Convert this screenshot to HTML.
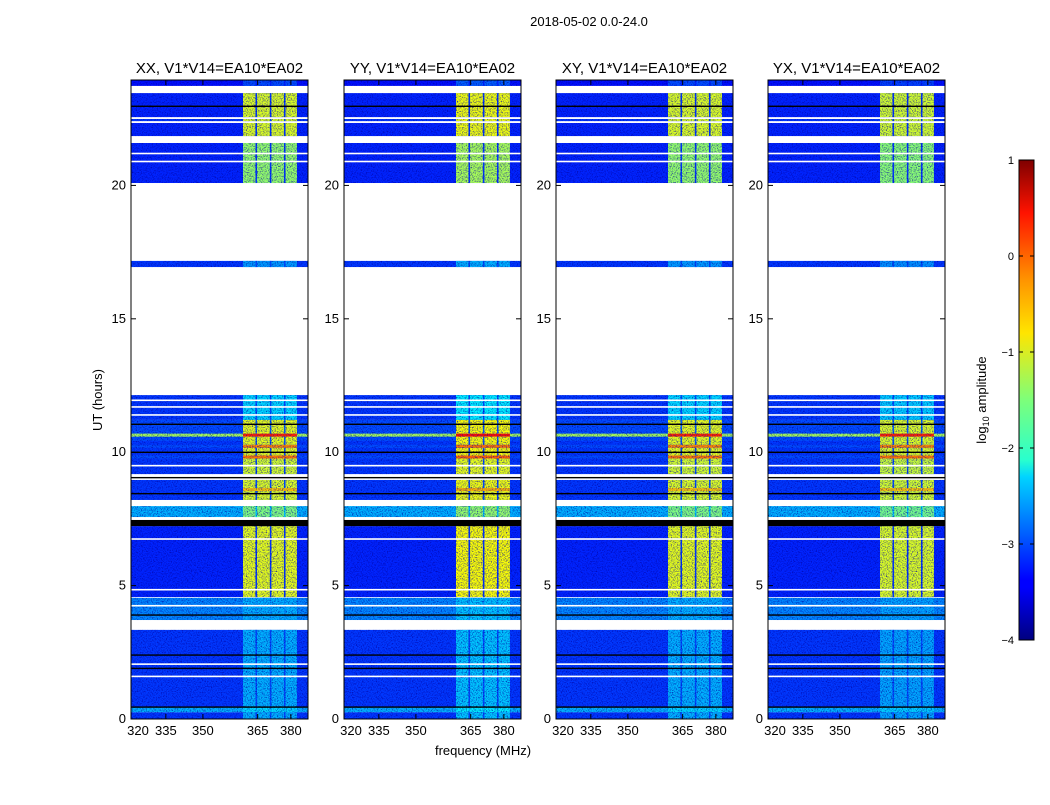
<!DOCTYPE html>
<html><head><meta charset="utf-8">
<style>
body{margin:0;background:#fff;width:1050px;height:800px;overflow:hidden;font-family:"Liberation Sans",sans-serif;}
svg text{font-family:"Liberation Sans",sans-serif;}
</style></head>
<body>
<svg id="fig" width="1050" height="800" xmlns="http://www.w3.org/2000/svg">
<defs>
<filter id="noise" x="0" y="0" width="100%" height="100%">
<feTurbulence type="fractalNoise" baseFrequency="0.8" numOctaves="2" seed="7" result="n"/>
<feColorMatrix in="n" type="matrix" values="0 0 0 0 0  0 0 0 0 0  0 0 0 0 0.35  2.2 0 0 0 -1.0" result="c"/>
<feComposite in="c" in2="SourceGraphic" operator="in"/>
</filter>
<linearGradient id="jet" x1="0" y1="1" x2="0" y2="0">
<stop offset="0" stop-color="#00007f"/><stop offset="0.11" stop-color="#0000ff"/>
<stop offset="0.125" stop-color="#0000ff"/><stop offset="0.34" stop-color="#00d4ff"/>
<stop offset="0.375" stop-color="#29ffce"/><stop offset="0.5" stop-color="#7dff7a"/>
<stop offset="0.64" stop-color="#ffe500"/><stop offset="0.75" stop-color="#ff9400"/>
<stop offset="0.89" stop-color="#ff1300"/><stop offset="1" stop-color="#7f0000"/>
</linearGradient>
</defs>
<text x="589" y="26" font-size="13" text-anchor="middle">2018-05-02 0.0-24.0</text>
<text x="483" y="755" font-size="13" text-anchor="middle">frequency (MHz)</text>
<text x="102" y="400" font-size="13" text-anchor="middle" transform="rotate(-90 102 400)">UT (hours)</text>
<g id="panels"></g>
<g>
<rect x="1019" y="160" width="15" height="480" fill="url(#jet)" stroke="#000" stroke-width="1"/>
</g>
<text x="986" y="400" font-size="13" text-anchor="middle" transform="rotate(-90 986 400)">log<tspan font-size="9" dy="3">10</tspan><tspan dy="-3"> amplitude</tspan></text>
<g id="cbticks"></g>
</svg>
<script>
// ---- data ----
const panelTitles = ["XX, V1*V14=EA10*EA02","YY, V1*V14=EA10*EA02","XY, V1*V14=EA10*EA02","YX, V1*V14=EA10*EA02"];
const yTicks = [0,5,10,15,20];
const xTickLabels = ["320","335","350","365","380"];
const xTickChannels = [0,12.6,26,45.8,57.8];
const bandStartCh = 40.5, bandEndCh = 60, nChan = 64;
const bandGapChannels = [45,50.2,55.3];
// data segments
const segStart = [23.73,22.56,22.41,21.85,20.09,16.94,11.21,10.42,9.78,9.18,8.21,7.57,4.57,3.71,0.45,0.25,0.00];
const segEnd   = [23.95,23.46,22.49,22.34,21.59,17.17,12.14,11.21,10.42,9.78,8.96,7.98,7.23,4.54,3.34,0.45,0.25];
const segBg    = [-3.3,-3.2,-3.1,-3.2,-3.2,-3.1,-3.1,-3.0,-3.1,-3.1,-3.1,-2.5,-3.2,-2.7,-3.1,-2.5,-3.1];
const segBand  = [-3.0,-1.05,-1.05,-1.05,-1.4,-2.6,-2.3,-1.0,-1.0,-1.1,-1.05,-1.5,-1.0,-2.5,-2.5,-2.3,-2.5];
// hot rows: [hour, bgLevel, bandLevel]
const hotRowHours = [10.64,10.22,9.82,8.6];
const hotRowBg    = [-1.3,-3.0,-3.0,-3.1];
const hotRowBand  = [0.2,-0.3,-0.2,-0.6];
const panelBandOffset = [0,0.1,0,-0.05];
const panelHotOffset = [0,0.1,0,0];
const whiteLineHours = [21.2,20.9,11.95,11.7,11.4,9.5,6.75,4.85,4.25,3.6,3.45,2.06,1.6];
const blackLineHours = [22.97,11.05,10.0,9.05,8.45,3.9,2.4,1.9,0.45];
const thickBlackStart = [7.23];
const thickBlackEnd = [7.46];
const cbTicks = [1,0,-1,-2,-3,-4];

// ---- helpers ----
const NS="http://www.w3.org/2000/svg";
function jet(v){
  let t=Math.max(0,Math.min(1,(v+4)/5));
  const r=Math.max(0,Math.min(1,1.5-Math.abs(4*t-3)));
  const g=Math.max(0,Math.min(1,1.5-Math.abs(4*t-2)));
  const b=Math.max(0,Math.min(1,1.5-Math.abs(4*t-1)));
  return `rgb(${Math.round(r*255)},${Math.round(g*255)},${Math.round(b*255)})`;
}
function mk(tag,attrs,parent){const e=document.createElementNS(NS,tag);for(const k in attrs)e.setAttribute(k,attrs[k]);parent.appendChild(e);return e;}
const panelX=[131,344,556,768], panelW=177, yTop=80, yBottom=719;
const yScale=h=>yBottom-(h/24)*(yBottom-78.7);
const panelsG=document.getElementById('panels');

panelX.forEach((px,pi)=>{
  const xs=c=>px+(c/nChan)*panelW;
  const g=mk('g',{},panelsG);
  
  
  const img=mk('g',{},g);
  
  
  const texture=mk('g',{},g);
  
  
  function drawSeg(h0,h1,bg,band){
    const y0=yScale(Math.max(h0,h1)), y1=yScale(Math.min(h0,h1));
    const r=mk('rect',{x:px,y:y0,width:panelW,height:y1-y0,fill:jet(bg)},img);
    
    
    const b=mk('rect',{x:xs(bandStartCh),y:y0,width:xs(bandEndCh)-xs(bandStartCh),height:y1-y0,fill:jet(band+panelBandOffset[pi])},img);
    
    
    bandGapChannels.forEach(c=>{
      const gp=mk('rect',{x:xs(c),y:y0,width:1.6,height:y1-y0,fill:jet(bg+0.1)},img);
      
      
    });
    const n=mk('rect',{x:px,y:y0,width:panelW,height:y1-y0,fill:'#000',filter:'url(#noise)'},texture);
    
    
  }
  for(let i=0;i<segStart.length;i++) drawSeg(segStart[i],segEnd[i],segBg[i],segBand[i]);
  for(let i=0;i<hotRowHours.length;i++){
    const y=yScale(hotRowHours[i]);
    const r=mk('rect',{x:px,y:y-1.5,width:panelW,height:3,fill:jet(hotRowBg[i])},img);
    
    
    const b=mk('rect',{x:xs(bandStartCh),y:y-1.5,width:xs(bandEndCh)-xs(bandStartCh),height:3,fill:jet(hotRowBand[i]+panelHotOffset[pi])},img);
    
    
  }
  whiteLineHours.forEach(h=>{
    const r=mk('rect',{x:px,y:yScale(h)-0.7,width:panelW,height:1.6,fill:'#fff'},g);
    
    
  });
  blackLineHours.forEach(h=>{
    const r=mk('rect',{x:px,y:yScale(h)-0.6,width:panelW,height:1.4,fill:'#000'},g);
    
    
  });
  for(let i=0;i<thickBlackStart.length;i++){
    const y0=yScale(thickBlackEnd[i]), y1=yScale(thickBlackStart[i]);
    const r=mk('rect',{x:px,y:y0,width:panelW,height:y1-y0,fill:'#000'},g);
    
    
  }
  const frame=mk('rect',{x:px,y:yTop,width:panelW,height:yBottom-yTop,fill:'none',stroke:'#000','stroke-width':1},g);
  
  
  const t=mk('text',{x:px+panelW/2,y:73,'font-size':15,'text-anchor':'middle'},g);
  t.textContent=panelTitles[pi];
  
  
  yTicks.forEach(v=>{
    const y=yScale(v);
    mk('line',{x1:px,x2:px+5,y1:y,y2:y,stroke:'#000'},g);
    mk('line',{x1:px+panelW-5,x2:px+panelW,y1:y,y2:y,stroke:'#000'},g);
    const l=mk('text',{x:px-5,y:y+4,'font-size':13,'text-anchor':'end'},g);
    l.textContent=v;
    
    
  });
  xTickChannels.forEach((c,i)=>{
    const x=xs(c);
    mk('line',{x1:x,x2:x,y1:yBottom,y2:yBottom-5,stroke:'#000'},g);
    mk('line',{x1:x,x2:x,y1:yTop,y2:yTop+5,stroke:'#000'},g);
    const l=mk('text',{x:x+(i===0?7:0),y:yBottom+16,'font-size':13,'text-anchor':'middle'},g);
    l.textContent=xTickLabels[i];
    
    
  });
});
const cbg=document.getElementById('cbticks');
cbTicks.forEach(v=>{
  const y=640-(v+4)/5*480;
  mk('line',{x1:1019,x2:1023,y1:y,y2:y,stroke:'#000'},cbg);
  mk('line',{x1:1030,x2:1034,y1:y,y2:y,stroke:'#000'},cbg);
  const l=mk('text',{x:1014,y:y+4,'font-size':11,'text-anchor':'end'},cbg);
  l.textContent=(v<0?'\u2212'+(-v):v);
  
  
});
</script>
</body></html>
